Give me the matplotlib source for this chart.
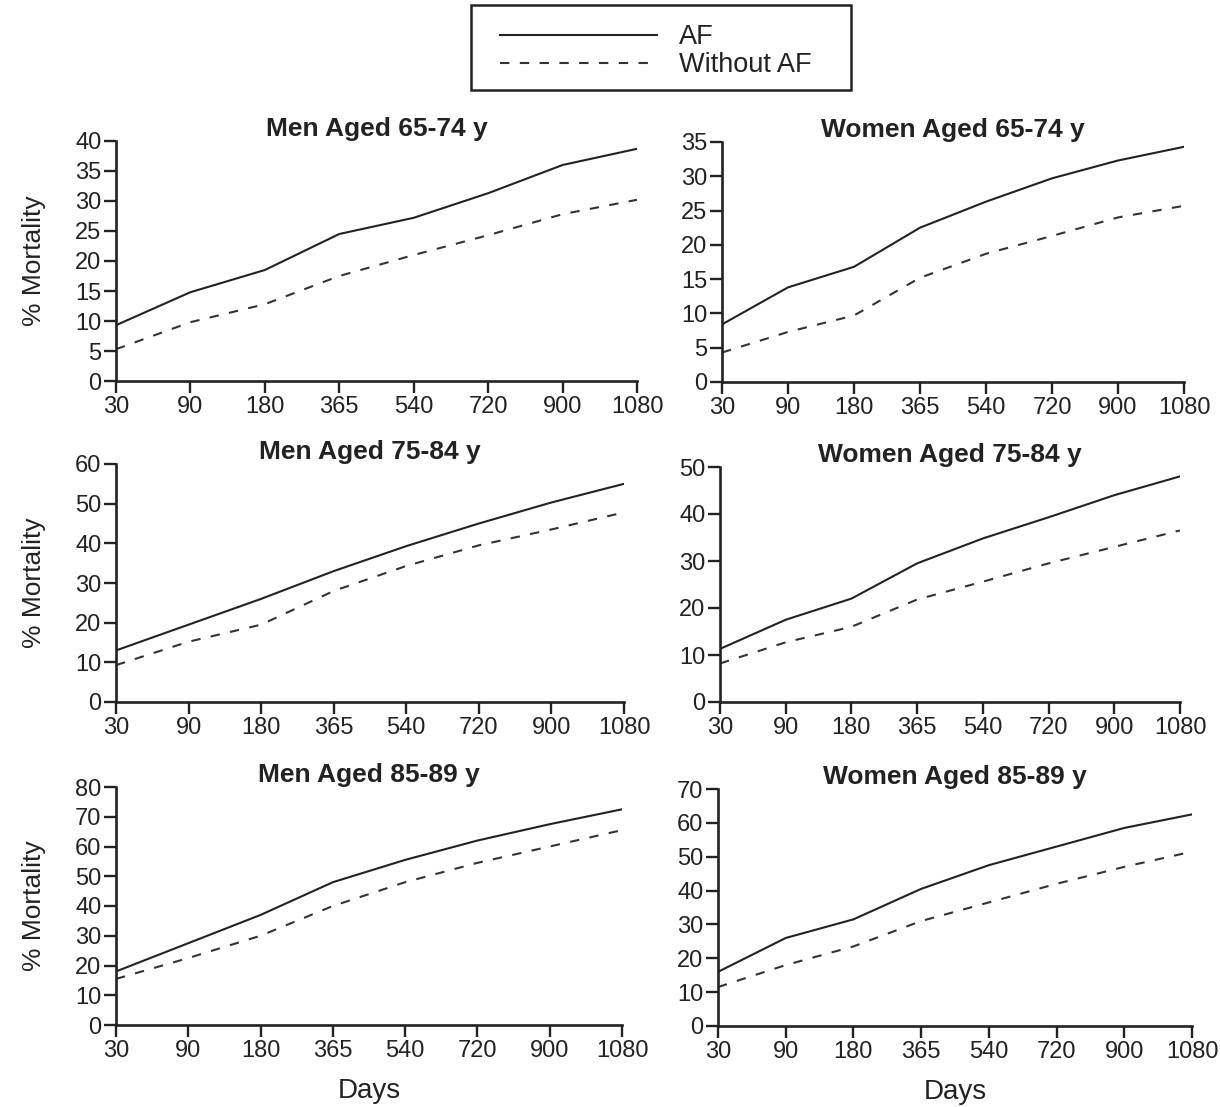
import matplotlib
matplotlib.use("Agg")
import matplotlib.pyplot as plt
from matplotlib.lines import Line2D
from matplotlib.patches import Rectangle

days = ["30", "90", "180", "365", "540", "720", "900", "1080"]

titles = ["Men Aged 65-74 y", "Women Aged 65-74 y",
          "Men Aged 75-84 y", "Women Aged 75-84 y",
          "Men Aged 85-89 y", "Women Aged 85-89 y"]

men_65_af = [9.3, 14.8, 18.5, 24.5, 27.2, 31.3, 36.0, 38.7]
men_65_noaf = [5.3, 9.8, 12.8, 17.5, 21.0, 24.3, 27.8, 30.2]
women_65_af = [8.4, 13.8, 16.8, 22.5, 26.3, 29.7, 32.3, 34.3]
women_65_noaf = [4.3, 7.3, 9.7, 15.2, 18.7, 21.3, 24.0, 25.7]
men_75_af = [13.0, 19.5, 26.0, 33.0, 39.3, 45.0, 50.3, 55.0]
men_75_noaf = [9.3, 15.2, 19.5, 28.0, 34.3, 39.5, 43.5, 47.8]
women_75_af = [11.3, 17.5, 22.0, 29.5, 34.8, 39.3, 44.0, 48.0]
women_75_noaf = [8.2, 12.7, 16.0, 21.8, 25.6, 29.5, 33.0, 36.5]
men_85_af = [18.0, 27.5, 37.0, 48.0, 55.5, 62.0, 67.5, 72.5]
men_85_noaf = [15.5, 22.5, 30.0, 40.0, 48.0, 54.5, 60.0, 65.5]
women_85_af = [16.0, 26.0, 31.5, 40.5, 47.5, 53.0, 58.5, 62.5]
women_85_noaf = [11.5, 18.0, 23.5, 31.0, 36.5, 42.0, 47.0, 51.5]

ymax = [40, 35, 60, 50, 80, 70]
ystep = [5, 5, 10, 10, 10, 10]

series = [(men_65_af, men_65_noaf), (women_65_af, women_65_noaf),
          (men_75_af, men_75_noaf), (women_75_af, women_75_noaf),
          (men_85_af, men_85_noaf), (women_85_af, women_85_noaf)]

plt.rcParams["font.family"] = ["Liberation Sans", "DejaVu Sans"]

W, H = 1220, 1107
fig = plt.figure(figsize=(W / 100, H / 100), dpi=100)

# pixel boxes: (left, top, right, bottom)
boxes = [(116, 141, 637, 381), (722, 142, 1184, 382),
         (116, 464, 624, 702), (720, 467, 1180, 702),
         (116, 787, 622, 1025), (718, 789, 1192, 1026)]

ink = "#222222"
DASH = (4.5, 5.0)
LW = 1.5
for i, (b, (af, noaf)) in enumerate(zip(boxes, series)):
    l, t, r, bt = b
    ax = fig.add_axes([l / W, 1 - bt / H, (r - l) / W, (bt - t) / H])
    x = list(range(len(days)))
    ax.plot(x, af, color=ink, lw=LW, solid_joinstyle="round")
    ax.plot(x, noaf, color="#333333", lw=LW, dashes=DASH)
    ax.set_xlim(0, len(days) - 1)
    ax.set_ylim(0, ymax[i])
    ax.set_xticks(x)
    ax.set_xticklabels(days)
    ax.set_yticks(range(0, ymax[i] + 1, ystep[i]))
    for s in ["top", "right"]:
        ax.spines[s].set_visible(False)
    for s in ["left", "bottom"]:
        ax.spines[s].set_linewidth(1.9)
        ax.spines[s].set_color(ink)
    ax.tick_params(direction="out", length=8.5, width=1.7, colors=ink,
                   labelsize=17, pad=2)
    ax.set_title(titles[i], fontsize=19, fontweight="bold", color=ink, pad=1)
    if i % 2 == 0:
        ax.set_ylabel("% Mortality", fontsize=19, color=ink, labelpad=21)
    if i >= 4:
        ax.set_xlabel("Days", fontsize=20, color=ink, labelpad=12)

# legend box
fig.add_artist(Rectangle((471 / W, 1 - 90 / H), 380 / W, 85 / H,
                         transform=fig.transFigure, fill=False,
                         edgecolor=ink, linewidth=1.8))
handles = [Line2D([], [], color=ink, lw=LW),
           Line2D([], [], color="#333333", lw=LW, dashes=DASH)]
leg = fig.legend(handles, ["AF", "Without AF"], loc="upper left",
                 bbox_to_anchor=(500 / W, 1 - 24 / H), frameon=False,
                 fontsize=19.5, handlelength=5.8, handletextpad=0.8,
                 borderpad=0, labelspacing=0.08, borderaxespad=0)
for txt in leg.get_texts():
    txt.set_color(ink)

fig.savefig("out.png", dpi=100)
